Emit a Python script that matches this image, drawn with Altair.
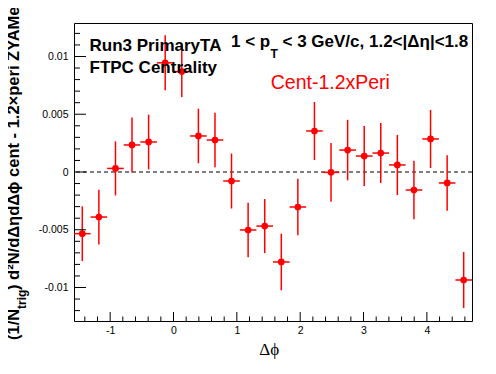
import altair as alt
import pandas as pd

# ---- data ----
dphi = [-1.440, -1.178, -0.916, -0.655, -0.393, -0.131, 0.131, 0.393, 0.655, 0.916,
        1.178, 1.440, 1.702, 1.963, 2.225, 2.487, 2.749, 3.011, 3.272, 3.534,
        3.796, 4.058, 4.320, 4.581]
yield_vals = [-0.00534, -0.00390, 0.00031, 0.00234, 0.00260, 0.00945, 0.00870, 0.00312,
              0.00277, -0.00078, -0.00502, -0.00468, -0.00779, -0.00303, 0.00355, -0.00003,
              0.00190, 0.00138, 0.00164, 0.00061, -0.00156, 0.00286, -0.00095, -0.00935]
yield_err = [0.00237, 0.00237, 0.00234, 0.00238, 0.00237, 0.00238, 0.00221, 0.00236,
             0.00236, 0.00238, 0.00236, 0.00234, 0.00245, 0.00245, 0.00251, 0.00254,
             0.00262, 0.00260, 0.00260, 0.00260, 0.00254, 0.00251, 0.00241, 0.00242]
bin_half_width = [0.131] * 24

x_major_ticks = [-1, 0, 1, 2, 3, 4]
x_minor_ticks = [-1.4, -1.2, -0.8, -0.6, -0.4, -0.2, 0.2, 0.4, 0.6, 0.8, 1.2, 1.4, 1.6, 1.8,
                 2.2, 2.4, 2.6, 2.8, 3.2, 3.4, 3.6, 3.8, 4.2, 4.4, 4.6]
y_major_ticks = [-0.01, -0.005, 0, 0.005, 0.01]
y_minor_ticks = [-0.012, -0.011, -0.009, -0.008, -0.007, -0.006, -0.004, -0.003, -0.002,
                 -0.001, 0.001, 0.002, 0.003, 0.004, 0.006, 0.007, 0.008, 0.009, 0.011, 0.012]

X_DOMAIN = [-1.5708, 4.7124]
Y_DOMAIN = [-0.0129, 0.0129]
W, H = 398, 298
FONT = "Liberation Sans"
RED = "#ff0000"

df = pd.DataFrame({"x": dphi, "y": yield_vals, "e": yield_err, "hw": bin_half_width})
df["ylo"] = df["y"] - df["e"]
df["yhi"] = df["y"] + df["e"]
df["xlo"] = df["x"] - df["hw"]
df["xhi"] = df["x"] + df["hw"]

xs = alt.Scale(domain=X_DOMAIN, nice=False, zero=False)
ys = alt.Scale(domain=Y_DOMAIN, nice=False, zero=False)

x_axis = alt.Axis(values=x_major_ticks, labelExpr="toString(datum.value)", grid=False,
                  domain=False, ticks=False, tickSize=0, labelPadding=4, labelFont=FONT,
                  labelFontSize=10.5, labelColor="black", title=None, labelFlush=False)
y_axis = alt.Axis(values=y_major_ticks, labelExpr="toString(datum.value)", grid=False,
                  domain=False, ticks=False, tickSize=0, labelPadding=6, labelFont=FONT,
                  labelFontSize=10.5, labelColor="black", title=None)

base = alt.Chart(df)

vbars = base.mark_rule(color=RED, strokeWidth=1.5).encode(
    x=alt.X("x:Q", scale=xs, axis=x_axis),
    y=alt.Y("ylo:Q", scale=ys, axis=y_axis),
    y2="yhi:Q",
)
hbars = base.mark_rule(color=RED, strokeWidth=1.5).encode(
    x=alt.X("xlo:Q", scale=xs), x2="xhi:Q", y=alt.Y("y:Q", scale=ys)
)
points = base.mark_point(filled=True, shape="circle", size=45, color=RED, opacity=1).encode(
    x=alt.X("x:Q", scale=xs), y=alt.Y("y:Q", scale=ys)
)

zero_line = alt.Chart(pd.DataFrame({"y": [0]})).mark_rule(
    color="black", strokeWidth=1, strokeDash=[4, 3]
).encode(y=alt.Y("y:Q", scale=ys))

# inward axis ticks
def yticks(vals, length):
    return alt.Chart(pd.DataFrame({"v": vals})).mark_rule(color="black", strokeWidth=1).encode(
        y=alt.Y("v:Q", scale=ys), x=alt.value(0), x2=alt.value(length)
    )

def xticks(vals, length):
    return alt.Chart(pd.DataFrame({"v": vals})).mark_rule(color="black", strokeWidth=1).encode(
        x=alt.X("v:Q", scale=xs), y=alt.value(H), y2=alt.value(H - length)
    )

def label(txt, x, y, size, color="black", bold=True, angle=0, font=FONT, align="left"):
    return alt.Chart(pd.DataFrame({"t": [txt]})).mark_text(
        font=font, fontSize=size, fontWeight="bold" if bold else "normal", color=color,
        align=align, baseline="alphabetic", angle=angle
    ).encode(x=alt.value(x), y=alt.value(y), text="t:N")

texts = [
    label("Run3 PrimaryTA", 15.5, 27.5, 17),
    label("FTPC Centrality", 15.5, 49.5, 17),
    label("1 < p", 157, 23.5, 17),
    label("T", 196.5, 35, 12),
    label("< 3 GeV/c, 1.2<|Δη|<1.8", 208.5, 23.5, 17),
    label("Cent-1.2xPeri", 196.7, 66.3, 19.5, color=RED, bold=False),
    label("Δϕ", -3.8 + W / 2, 332, 17, bold=False, font="Liberation Serif", align="center"),
    # rotated y title
    label("(1/N", -55, 317, 16.5, angle=270),
    label("trig", -48, 286, 12, angle=270),
    label(") d²N/dΔηdΔϕ cent - 1.2×peri ZYAMed", -55, 267, 16.5, angle=270),
]

chart = alt.layer(
    zero_line, vbars, hbars, points,
    yticks(y_major_ticks, 12), yticks(y_minor_ticks, 6),
    xticks(x_major_ticks, 9), xticks(x_minor_ticks, 4.5),
    *texts,
).properties(
    width=W, height=H,
    autosize=alt.AutoSizeParams(type="none"),
    padding={"left": 66, "top": 15, "right": 16, "bottom": 40},
    background="white",
).configure_view(stroke="black", strokeWidth=1)

chart.save("out.html", embed_options={"renderer": "svg", "actions": False})
